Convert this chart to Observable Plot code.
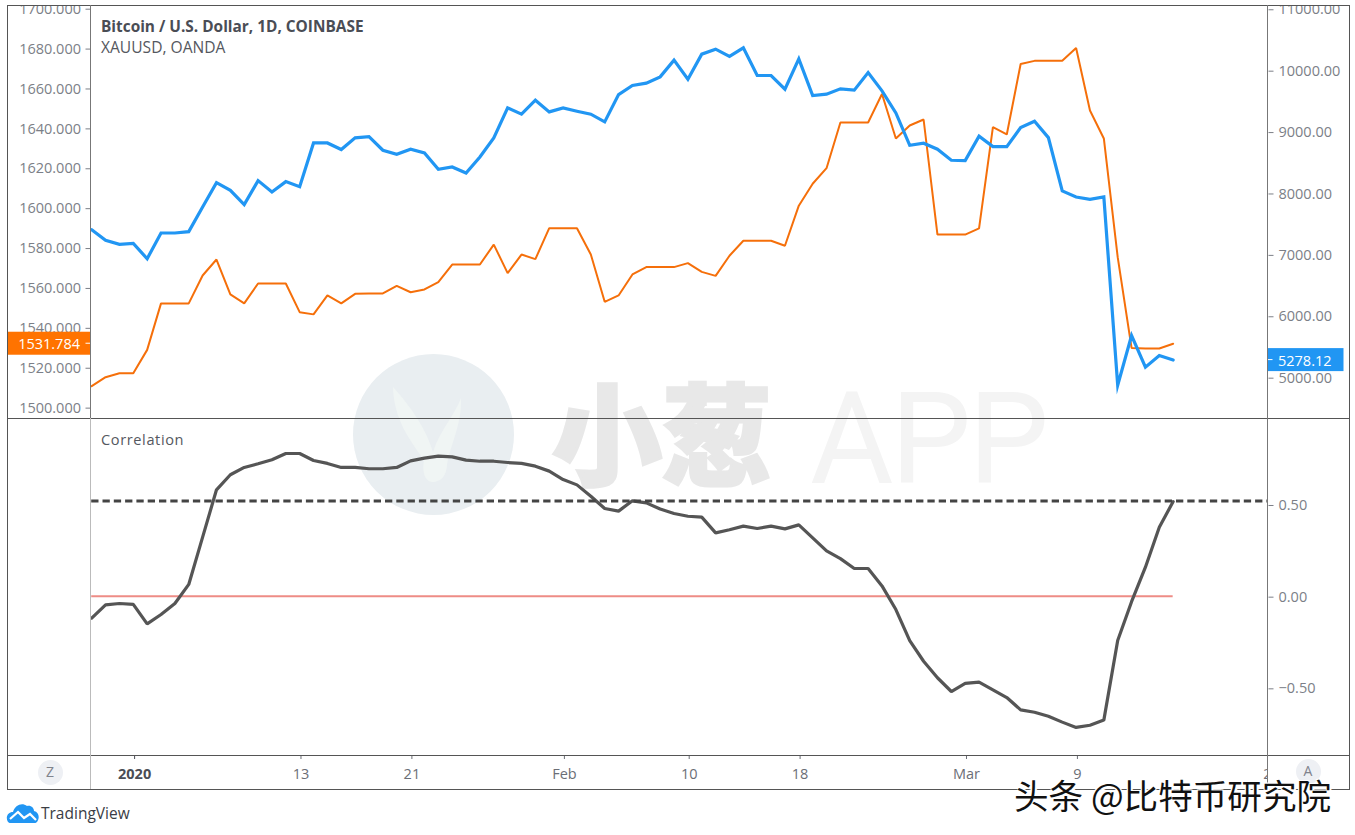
<!DOCTYPE html>
<html>
<head>
<meta charset="utf-8">
<script src="https://cdn.jsdelivr.net/npm/d3@7"></script>
<script src="https://cdn.jsdelivr.net/npm/@observablehq/plot@0.6"></script>
<style>
  html,body{margin:0;padding:0;background:#fff;}
  #root{position:relative;width:1355px;height:835px;overflow:hidden;font-family:"Open Sans",sans-serif;}
  #root>*{position:absolute;}
  .ln{background:#555;}
  .lbl{white-space:nowrap;line-height:1;}
  .btn{width:25px;height:25px;border-radius:50%;background:#eef0f4;color:#80838c;font-size:14px;line-height:24px;text-align:center;}
</style>
</head>
<body>
<div id="root"></div>
<script>
// ---- data ----
const startDay = new Date(Date.UTC(2019, 11, 29));
const goldValues = [1510.5,1515,1517,1517,1528.7,1552,1552,1552,1566,1574,1556.5,1552,1562,1562,1562,1547.6,1546.5,1556,1552,1556.8,1557,1557,1560.8,1557.6,1559,1562.7,1571.5,1571.5,1571.5,1581.5,1567.2,1576.5,1574.2,1589.7,1589.7,1589.7,1576.5,1552.8,1556,1566.5,1570.2,1570.2,1570.2,1572.2,1567.8,1565.8,1575.9,1583.4,1583.4,1583.4,1580.9,1601,1612,1619.8,1642.7,1642.7,1642.7,1657,1634.7,1641.2,1644.2,1586.5,1586.5,1586.5,1589.6,1640.4,1636.7,1672,1673.6,1673.6,1673.6,1680,1648.7,1634.7,1575.2,1529.7,1529.4,1529.4,1531.784];
const btcValues = [7402,7228,7163,7179,6929,7348,7348,7370,7772,8168,8043,7810,8201,8016,8185,8103,8815,8815,8707,8897,8918,8696,8630,8712,8652,8386,8424,8326,8587,8897,9386,9283,9511,9321,9386,9332,9283,9158,9603,9750,9788,9891,10163,9853,10261,10342,10223,10364,9913,9913,9690,10185,9587,9609,9696,9674,9962,9663,9304,8777,8810,8712,8533,8527,8924,8755,8755,9065,9168,8902,8033,7935,7897,7935,4870,5679,5163,5353,5278.12];
const corrValues = [-0.12,-0.047,-0.04,-0.045,-0.151,-0.10,-0.04,0.064,0.322,0.58,0.662,0.702,0.722,0.744,0.778,0.778,0.74,0.724,0.702,0.702,0.695,0.695,0.702,0.738,0.753,0.764,0.76,0.742,0.736,0.736,0.729,0.724,0.709,0.682,0.636,0.607,0.545,0.478,0.464,0.52,0.509,0.475,0.451,0.436,0.431,0.345,0.362,0.382,0.369,0.382,0.367,0.389,0.318,0.247,0.205,0.151,0.151,0.056,-0.073,-0.242,-0.355,-0.445,-0.52,-0.476,-0.469,-0.511,-0.553,-0.62,-0.633,-0.655,-0.687,-0.716,-0.704,-0.676,-0.242,-0.03,0.158,0.376,0.516];
const goldTicks = [1500,1520,1540,1560,1580,1600,1620,1640,1660,1680,1700];
const btcTicks = [5000,6000,7000,8000,9000,10000,11000];
const corrTicks = [-0.5,0,0.5];
const corrLevel = 0.519;
const xTickDates = ["2020-01-13","2020-01-21","2020-02-01","2020-02-10","2020-02-18","2020-03-01","2020-03-09","2020-03-23"].map(d=>new Date(d));
const xTickLabels = ["13","21","Feb","10","18","Mar","9","23"];
const yearTick = [new Date("2020-01-01")];
const xDomain = [startDay, new Date("2020-03-22T20:10:00Z")];
const goldDomain = [1494.3, 1700.85];
const btcDomain = [4327, 11037];
const corrDomain = [-0.869, 0.969];

const dates = goldValues.map((_,i)=>d3.utcDay.offset(startDay,i));
const rows = dates.map((date,i)=>({date,gold:goldValues[i],btc:btcValues[i],corr:corrValues[i]}));

const FONT = '"Open Sans",sans-serif';
const AXIS = "#7c7f87";
const ML = 91.2, MR = 87.5;
const root = document.getElementById("root");
function place(el,left,top){el.style.left=left+"px";el.style.top=top+"px";root.appendChild(el);return el;}
function html(tag,cssText,text,cls){const e=document.createElement(tag);e.style.cssText=cssText;if(text)e.textContent=text;if(cls)e.className=cls;root.appendChild(e);return e;}
function base(height,extra){return Object.assign({width:1355,height,marginLeft:ML,marginRight:MR,marginTop:0,marginBottom:0,
  x:{type:"utc",domain:xDomain,axis:null},
  style:{background:"transparent",fontFamily:FONT,fontSize:"14.5px",overflow:"hidden"}},extra);}
function badge(value,text,color,x0,x1,textX,tickX0,tickX1){
  return (index,scales)=>{
    const g=d3.create("svg:g"); const y=scales.y(value);
    g.append("rect").attr("x",x0).attr("y",y-11.5).attr("width",x1-x0).attr("height",23).attr("fill",color);
    g.append("line").attr("x1",tickX0).attr("x2",tickX1).attr("y1",y).attr("y2",y).attr("stroke","#fff");
    g.append("text").attr("x",textX).attr("y",y+1).attr("dy","0.36em").attr("text-anchor",tickX0<200?"end":"start")
      .attr("fill","#fff").attr("font-size",14.5).text(text);
    return g.node();
  };
}

// ---- watermark, under everything ----
root.insertAdjacentHTML("beforeend",`
<svg style="left:340px;top:345px" width="180" height="180" viewBox="340 345 180 180">
  <circle cx="433.5" cy="434.5" r="80.5" fill="#e9eef1"/>
  <path d="M393 387 C405 400 425 425 433 452 C440 430 455 415 461 398 C462 425 450 445 447 465 C446 480 437 482 432 482 C424 481 422 470 424 460 C410 440 394 420 393 387Z" fill="#f0f5f4"/>
</svg>`);
html("div",'left:552px;top:366px;font:900 110px "Noto Sans CJK SC";color:#e8e8e8;-webkit-text-stroke:3px #e8e8e8;line-height:1.15;white-space:nowrap;',"小葱");
html("div",'left:810px;top:366px;font:400 128px Roboto;color:#f4f4f4;line-height:1.15;letter-spacing:-3px;white-space:nowrap;',"APP");

// ---- top panel, gold on the left scale ----
const goldPlot = Plot.plot(base(412,{
  y:{domain:goldDomain,axis:null},
  marks:[
    Plot.axisY(goldTicks,{anchor:"left",tickFormat:d3.format(".3f"),tickSize:5,tickPadding:5,color:AXIS,label:null,dy:1,dx:-0.7}),
    Plot.line(rows,{x:"date",y:"gold",stroke:"#f56f0a",strokeWidth:2,strokeLinejoin:"miter"}),
    badge(goldValues.at(-1),"1531.784","#ff7300",8,90.5,80,85.5,90.5)
  ]
}));
place(goldPlot,0,6);

// ---- top panel, bitcoin on the right scale ----
const btcPlot = Plot.plot(base(412,{
  y:{domain:btcDomain,axis:null},
  marks:[
    Plot.axisY(btcTicks,{anchor:"right",tickFormat:d3.format(".2f"),tickSize:5,tickPadding:5.5,color:AXIS,label:null,dy:1,textAnchor:"start"}),
    Plot.line(rows,{x:"date",y:"btc",stroke:"#2196f3",strokeWidth:3.2,strokeLinejoin:"miter",strokeMiterlimit:6}),
    badge(btcValues.at(-1),"5278.12","#2196f3",1267.5,1343.5,1278,1267.5,1272.5)
  ]
}));
place(btcPlot,0,6);

// ---- correlation panel ----
const corrPlot = Plot.plot(base(337,{
  y:{domain:corrDomain,axis:null},
  marks:[
    Plot.axisY(corrTicks,{anchor:"right",tickFormat:d3.format(".2f"),tickSize:5,tickPadding:5.5,color:AXIS,label:null,dy:1}),
    Plot.ruleY([0],{x1:dates[0],x2:dates.at(-1),stroke:"#ee8c86",strokeWidth:2}),
    Plot.line(rows,{x:"date",y:"corr",stroke:"#555",strokeWidth:3.2,strokeLinejoin:"miter"}),
    Plot.ruleY([corrLevel],{stroke:"#444",strokeWidth:3.2,strokeDasharray:"7.3,4"})
  ]
}));
place(corrPlot,0,418);

// ---- time axis ----
const timePlot = Plot.plot(base(34,{
  marginBottom:34,
  marks:[
    Plot.axisX(yearTick,{anchor:"bottom",tickSize:4,tickPadding:9.5,dx:1.3,tickFormat:()=>"2020",color:"#4a4d55",fontWeight:"bold",label:null}),
    Plot.axisX(xTickDates,{anchor:"bottom",tickSize:4,tickPadding:9.5,dx:1.3,tickFormat:d=>xTickLabels[xTickDates.findIndex(t=>+t===+d)],color:"#6b6e76",label:null})
  ]
}));
place(timePlot,0,755);
// the right-hand price column hides the tick label that runs under it
html("div","left:1268px;top:756px;width:20px;height:32px;background:#fff;");

// ---- frame lines ----
const lines=[[7,5,1342.5,1.2],[7,418,1342.5,1.2],[7,755,1342.5,1.2],[7,788.5,1342.5,1.2]];
lines.forEach(([l,t,w,h])=>html("div",`left:${l}px;top:${t}px;width:${w}px;height:${h}px;`,null,"ln"));
html("div","left:7px;top:5px;width:1.2px;height:784px;",null,"ln");
html("div","left:1348.5px;top:5px;width:1.2px;height:784px;",null,"ln");
html("div","left:90px;top:5px;width:1.2px;height:413px;background:#777;");
html("div","left:90px;top:418px;width:1px;height:371px;background:#bbb;");
html("div","left:1267px;top:5px;width:1.2px;height:784px;background:#777;");

// ---- legends ----
html("div",'left:101px;top:16px;font:700 15.4px "Open Sans";color:#4a4d55;',"Bitcoin / U.S. Dollar, 1D, COINBASE","lbl");
html("div",'left:101px;top:36px;font:400 15.6px "Open Sans";color:#555860;',"XAUUSD, OANDA","lbl");
html("div",'left:101px;top:428.5px;font:400 14.6px "Open Sans";color:#555860;letter-spacing:.6px;',"Correlation","lbl");
html("div","left:37.5px;top:760px;","Z","btn");
html("div","left:1295.5px;top:759px;","A","btn");

// ---- TradingView mark ----
root.insertAdjacentHTML("beforeend",`
<svg style="left:6px;top:802px" width="34" height="22" viewBox="0 0 34 22">
  <path d="M2 20 C-1 15 2 10 7 10 C9 3 16 0 21 4 C25 3 28 6 28 9 C33 10 34 16 31 20 C30 21 29 21 28 21 L5 21 C4 21 3 21 2 20Z" fill="#2196f3"/>
  <path d="M4 17 L12 10 L18 16 L24 12 L30 18" fill="none" stroke="#fff" stroke-width="2.2"/>
</svg>`);
html("div",'left:41px;top:802px;font:400 15.5px "Open Sans";color:#3a3d45;',"TradingView","lbl");

// ---- publisher stamp ----
html("div",'left:1014px;top:777px;font:400 34.6px "Noto Sans CJK SC";color:#111;text-shadow:2px 2px 0 #fff,-1px -1px 0 #fff,1px -1px 0 #fff,-1px 1px 0 #fff;line-height:1;white-space:nowrap;',"头条 @比特币研究院");
</script>
</body>
</html>
